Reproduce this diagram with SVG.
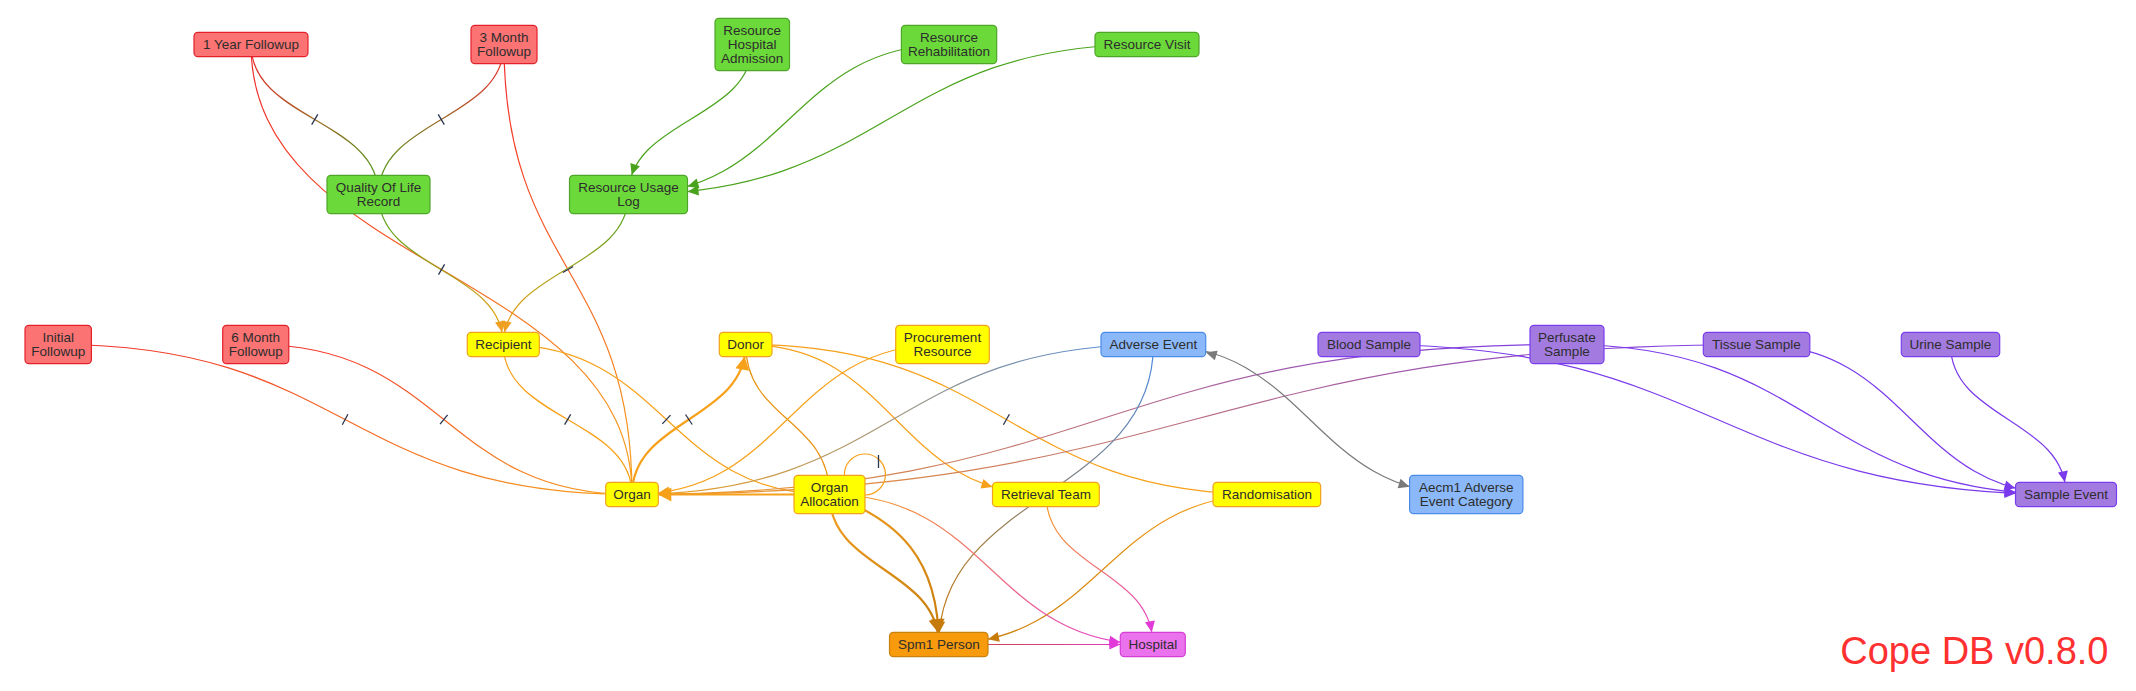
<svg xmlns="http://www.w3.org/2000/svg" xmlns:xlink="http://www.w3.org/1999/xlink" width="2136" height="691" viewBox="0 0 2136 691">
<style>
.node rect{stroke-width:1.2}
.node text{font-family:"Liberation Sans",Arial,Helvetica,sans-serif;font-size:13.5px;fill:#2d2d2d;text-anchor:middle}
.red rect{fill:#fb7373;stroke:#e4202a}
.green rect{fill:#6cd93a;stroke:#4ea52a}
.yellow rect{fill:#ffff00;stroke:#f0a020}
.blue rect{fill:#8ab8f8;stroke:#4a8ae8}
.purple rect{fill:#a37be0;stroke:#7a3cf0}
.spm rect{fill:#f79a0c;stroke:#c8800e}
.hosp rect{fill:#ea72ec;stroke:#d63ed6}
.e{fill:none;stroke-width:1.2}
.thick{stroke-width:2.2}
.tick{stroke:#2a3550;stroke-width:1.3;fill:none}
.title{font-family:"Liberation Sans",Arial,Helvetica,sans-serif;font-size:38px;fill:#ff3030;text-anchor:end}
</style>
<defs>
<path id="ah" d="M0,0 L-11,-5 L-11,5 Z"/>
<path id="ahT" d="M0,0 L-13,-7 L-13,7 Z"/>
<linearGradient id="g1" gradientUnits="userSpaceOnUse" x1="251" y1="44.5" x2="378.5" y2="194.5"><stop offset="0" stop-color="#f2282c"/><stop offset="1" stop-color="#4aa31c"/></linearGradient>
<linearGradient id="g2" gradientUnits="userSpaceOnUse" x1="504" y1="44.5" x2="378.5" y2="194.5"><stop offset="0" stop-color="#f2282c"/><stop offset="1" stop-color="#4aa31c"/></linearGradient>
<linearGradient id="g3" gradientUnits="userSpaceOnUse" x1="251" y1="44.5" x2="632" y2="494.5"><stop offset="0" stop-color="#f2282c"/><stop offset="1" stop-color="#f7a11a"/></linearGradient>
<linearGradient id="g4" gradientUnits="userSpaceOnUse" x1="504" y1="44.5" x2="632" y2="494.5"><stop offset="0" stop-color="#f2282c"/><stop offset="1" stop-color="#f7a11a"/></linearGradient>
<linearGradient id="g5" gradientUnits="userSpaceOnUse" x1="58.2" y1="344.5" x2="632" y2="494.5"><stop offset="0" stop-color="#f2282c"/><stop offset="1" stop-color="#f7a11a"/></linearGradient>
<linearGradient id="g6" gradientUnits="userSpaceOnUse" x1="255.7" y1="344.5" x2="632" y2="494.5"><stop offset="0" stop-color="#f2282c"/><stop offset="1" stop-color="#f7a11a"/></linearGradient>
<linearGradient id="g10" gradientUnits="userSpaceOnUse" x1="378.5" y1="194.5" x2="503.3" y2="344.5"><stop offset="0" stop-color="#4aa31c"/><stop offset="1" stop-color="#f7a11a"/></linearGradient>
<linearGradient id="g11" gradientUnits="userSpaceOnUse" x1="628.5" y1="194.5" x2="503.3" y2="344.5"><stop offset="0" stop-color="#4aa31c"/><stop offset="1" stop-color="#f7a11a"/></linearGradient>
<linearGradient id="g20" gradientUnits="userSpaceOnUse" x1="1153.4" y1="344.5" x2="632" y2="494.5"><stop offset="0" stop-color="#4a8ae0"/><stop offset="1" stop-color="#f7a11a"/></linearGradient>
<linearGradient id="g21" gradientUnits="userSpaceOnUse" x1="1567" y1="344.5" x2="632" y2="494.5"><stop offset="0" stop-color="#7b3aeb"/><stop offset="1" stop-color="#f7a11a"/></linearGradient>
<linearGradient id="g22" gradientUnits="userSpaceOnUse" x1="1756.5" y1="344.5" x2="632" y2="494.5"><stop offset="0" stop-color="#7b3aeb"/><stop offset="1" stop-color="#f7a11a"/></linearGradient>
<linearGradient id="g24" gradientUnits="userSpaceOnUse" x1="829.5" y1="494.5" x2="938.8" y2="644.5"><stop offset="0" stop-color="#f0a020"/><stop offset="1" stop-color="#c67a0a"/></linearGradient>
<linearGradient id="g26" gradientUnits="userSpaceOnUse" x1="1153.4" y1="344.5" x2="938.8" y2="644.5"><stop offset="0" stop-color="#4a8ae0"/><stop offset="1" stop-color="#c67a0a"/></linearGradient>
<linearGradient id="g27" gradientUnits="userSpaceOnUse" x1="1267" y1="494.5" x2="938.8" y2="644.5"><stop offset="0" stop-color="#f7a11a"/><stop offset="1" stop-color="#c67a0a"/></linearGradient>
<linearGradient id="g28" gradientUnits="userSpaceOnUse" x1="829.5" y1="494.5" x2="1152.8" y2="644.5"><stop offset="0" stop-color="#f7a11a"/><stop offset="1" stop-color="#e23ad8"/></linearGradient>
<linearGradient id="g29" gradientUnits="userSpaceOnUse" x1="1046" y1="494.5" x2="1152.8" y2="644.5"><stop offset="0" stop-color="#f7a11a"/><stop offset="1" stop-color="#e23ad8"/></linearGradient>
<linearGradient id="g30" gradientUnits="userSpaceOnUse" x1="938.8" y1="644.5" x2="1152.8" y2="644.5"><stop offset="0" stop-color="#c84a2a"/><stop offset="1" stop-color="#e23ad8"/></linearGradient>
</defs>
<rect width="2136" height="691" fill="#ffffff"/>
<g id="connectors">
<path class="e" stroke="url(#g1)" d="M251,44.5 C251,119.5 378.5,119.5 378.5,194.5"/>
<path class="e" stroke="url(#g2)" d="M504,44.5 C504,119.5 378.5,119.5 378.5,194.5"/>
<path class="e" stroke="url(#g3)" d="M251,44.5 C251,269.5 632,269.5 632,494.5"/>
<path class="e" stroke="url(#g4)" d="M504,44.5 C504,269.5 632,269.5 632,494.5"/>
<path class="e" stroke="url(#g5)" d="M58.2,344.5 C345.1,344.5 345.1,494.5 632,494.5"/>
<path class="e" stroke="url(#g6)" d="M255.7,344.5 C443.85,344.5 443.85,494.5 632,494.5"/>
<path class="e" stroke="#4aa31c" d="M752.2,44.5 C752.2,119.5 628.5,119.5 628.5,194.5"/>
<path class="e" stroke="#4aa31c" d="M949,44.5 C788.75,44.5 788.75,194.5 628.5,194.5"/>
<path class="e" stroke="#4aa31c" d="M1147,44.5 C887.75,44.5 887.75,194.5 628.5,194.5"/>
<path class="e" stroke="url(#g10)" d="M378.5,194.5 C378.5,269.5 503.3,269.5 503.3,344.5"/>
<path class="e" stroke="url(#g11)" d="M628.5,194.5 C628.5,269.5 503.3,269.5 503.3,344.5"/>
<path class="e" stroke="#f7a11a" d="M503.3,344.5 C503.3,419.5 632,419.5 632,494.5"/>
<path class="e" stroke="#f7a11a" d="M503.3,344.5 C666.4,344.5 666.4,494.5 829.5,494.5"/>
<path class="e thick" stroke="#f7a11a" d="M632,494.5 C632,419.5 745.7,419.5 745.7,344.5"/>
<path class="e" stroke="#e8920e" stroke-width="1.4" d="M745.7,344.5 C745.7,419.5 829.5,419.5 829.5,494.5"/>
<path class="e" stroke="#f7a11a" d="M745.7,344.5 C895.85,344.5 895.85,494.5 1046,494.5"/>
<path class="e" stroke="#f7a11a" d="M745.7,344.5 C1006.35,344.5 1006.35,494.5 1267,494.5"/>
<path class="e" stroke="#f7a11a" d="M942.5,344.5 C787.25,344.5 787.25,494.5 632,494.5"/>
<path class="e thick" stroke="#f7a11a" d="M829.5,494.5 L632,494.5"/>
<path class="e" stroke="url(#g20)" d="M1153.4,344.5 C892.7,344.5 892.7,494.5 632,494.5"/>
<path class="e" stroke="url(#g21)" d="M1567,344.5 C1099.5,344.5 1099.5,494.5 632,494.5"/>
<path class="e" stroke="url(#g22)" d="M1756.5,344.5 C1194.25,344.5 1194.25,494.5 632,494.5"/>
<path class="e" stroke="#f7a11a" d="M844.5,476 A20.5,20.5 0 1 1 865,495"/>
<path class="e thick" stroke="url(#g24)" d="M829.5,494.5 C829.5,569.5 938.8,569.5 938.8,644.5"/>
<path class="e thick" stroke="url(#g24)" d="M829.5,494.5 C900,520 938.8,560 938.8,644.5"/>
<path class="e" stroke="url(#g26)" d="M1153.4,344.5 C1153.4,494.5 938.8,494.5 938.8,644.5"/>
<path class="e" stroke="url(#g27)" d="M1267,494.5 C1102.9,494.5 1102.9,644.5 938.8,644.5"/>
<path class="e" stroke="url(#g28)" d="M829.5,494.5 C991.15,494.5 991.15,644.5 1152.8,644.5"/>
<path class="e" stroke="url(#g29)" d="M1046,494.5 C1046,569.5 1152.8,569.5 1152.8,644.5"/>
<path class="e" stroke="url(#g30)" d="M938.8,644.5 L1152.8,644.5"/>
<path class="e" stroke="#7a7a7a" d="M1153.4,344.5 C1309.8,344.5 1309.8,494.5 1466.2,494.5"/>
<path class="e" stroke="#7b3aeb" d="M1369,344.5 C1717.5,344.5 1717.5,494.5 2066,494.5"/>
<path class="e" stroke="#7b3aeb" d="M1567,344.5 C1816.5,344.5 1816.5,494.5 2066,494.5"/>
<path class="e" stroke="#7b3aeb" d="M1756.5,344.5 C1911.25,344.5 1911.25,494.5 2066,494.5"/>
<path class="e" stroke="#7b3aeb" d="M1950.5,344.5 C1950.5,419.5 2066,419.5 2066,494.5"/>
<path class="tick" d="M317.8,114.3 L311.7,124.7"/>
<path class="tick" d="M438.2,114.4 L444.3,124.6"/>
<path class="tick" d="M444.6,264.3 L438.5,274.7"/>
<path class="tick" d="M573.2,266.5 L562.8,272.5"/>
<path class="tick" d="M347.9,414.2 L342.3,424.8"/>
<path class="tick" d="M447.6,414.8 L440.1,424.2"/>
<path class="tick" d="M570.7,414.3 L564.6,424.7"/>
<path class="tick" d="M670.5,415.1 L662.3,423.9"/>
<path class="tick" d="M685.5,414.5 L692.2,424.5"/>
<path class="tick" d="M1009.4,414.3 L1003.4,424.7"/>
<path class="tick" d="M878.5,455 L878.5,468"/>
<use href="#ah" fill="#4aa31c" transform="translate(631.6,175) rotate(108.9)"/>
<use href="#ah" fill="#4aa31c" transform="translate(687.5,186.5) rotate(163.5)"/>
<use href="#ah" fill="#4aa31c" transform="translate(687.5,191.7) rotate(174.1)"/>
<use href="#ah" fill="#f0a020" transform="translate(502.1,332.3) rotate(78.7)"/>
<use href="#ah" fill="#f0a020" transform="translate(504.5,332.3) rotate(101.3)"/>
<use href="#ahT" fill="#f7a11a" transform="translate(744.6,356.7) rotate(-79.6)"/>
<use href="#ah" fill="#f7a11a" transform="translate(992.5,487) rotate(17)"/>
<use href="#ah" fill="#f7a11a" transform="translate(658.3,492.9) rotate(173)"/>
<use href="#ahT" fill="#f7a11a" transform="translate(658.3,494.5) rotate(180)"/>
<use href="#ah" fill="#f7a11a" transform="translate(658.3,494) rotate(177.6)"/>
<use href="#ah" fill="#f7a11a" transform="translate(658.3,494.3) rotate(179.3)"/>
<use href="#ah" fill="#f7a11a" transform="translate(658.3,494.4) rotate(179.5)"/>
<use href="#ahT" fill="#c67a0a" transform="translate(937.8,632.3) rotate(80.1)"/>
<use href="#ahT" fill="#c67a0a" transform="translate(938.2,632.2) rotate(87.2)"/>
<use href="#ah" fill="#c67a0a" transform="translate(939.3,632.3) rotate(94.5)"/>
<use href="#ah" fill="#c67a0a" transform="translate(988,639.3) rotate(167.3)"/>
<use href="#ah" fill="#e23ad8" transform="translate(1120.3,642.3) rotate(8.1)"/>
<use href="#ah" fill="#e23ad8" transform="translate(1151.8,632.3) rotate(80.3)"/>
<use href="#ah" fill="#e23ad8" transform="translate(1120.3,644.5)"/>
<use href="#ah" fill="#7a7a7a" transform="translate(1409.6,486.7) rotate(16.7)"/>
<use href="#ah" fill="#7a7a7a" transform="translate(1205.7,352.3) rotate(196.7)"/>
<use href="#ah" fill="#7b3aeb" transform="translate(2015.5,493.4) rotate(2.6)"/>
<use href="#ah" fill="#7b3aeb" transform="translate(2015.5,492.3) rotate(5.3)"/>
<use href="#ah" fill="#7b3aeb" transform="translate(2015.5,488.3) rotate(14.9)"/>
<use href="#ah" fill="#7b3aeb" transform="translate(2064.9,482.3) rotate(79.5)"/>
</g>
<g id="node-1-year-followup" class="node red"><rect x="194" y="32.3" width="114" height="24.4" rx="4"/><text x="251" y="49.4">1 Year Followup</text></g>
<g id="node-3-month-followup" class="node red"><rect x="471" y="25.3" width="66" height="38.4" rx="4"/><text x="504" y="42.4">3 Month</text><text x="504" y="56.4">Followup</text></g>
<g id="node-resource-hospital-admission" class="node green"><rect x="715" y="18.3" width="74.5" height="52.4" rx="4"/><text x="752.2" y="35.4">Resource</text><text x="752.2" y="49.4">Hospital</text><text x="752.2" y="63.4">Admission</text></g>
<g id="node-resource-rehabilitation" class="node green"><rect x="901.4" y="25.3" width="95.3" height="38.4" rx="4"/><text x="949" y="42.4">Resource</text><text x="949" y="56.4">Rehabilitation</text></g>
<g id="node-resource-visit" class="node green"><rect x="1095" y="32.3" width="104" height="24.4" rx="4"/><text x="1147" y="49.4">Resource Visit</text></g>
<g id="node-quality-of-life-record" class="node green"><rect x="327" y="175.3" width="103" height="38.4" rx="4"/><text x="378.5" y="192.4">Quality Of Life</text><text x="378.5" y="206.4">Record</text></g>
<g id="node-resource-usage-log" class="node green"><rect x="569.5" y="175.3" width="118" height="38.4" rx="4"/><text x="628.5" y="192.4">Resource Usage</text><text x="628.5" y="206.4">Log</text></g>
<g id="node-initial-followup" class="node red"><rect x="25" y="325.3" width="66.4" height="38.4" rx="4"/><text x="58.2" y="342.4">Initial</text><text x="58.2" y="356.4">Followup</text></g>
<g id="node-6-month-followup" class="node red"><rect x="222.7" y="325.3" width="66.1" height="38.4" rx="4"/><text x="255.7" y="342.4">6 Month</text><text x="255.7" y="356.4">Followup</text></g>
<g id="node-recipient" class="node yellow"><rect x="467.3" y="332.3" width="72" height="24.4" rx="4"/><text x="503.3" y="349.4">Recipient</text></g>
<g id="node-donor" class="node yellow"><rect x="719.3" y="332.3" width="52.7" height="24.4" rx="4"/><text x="745.7" y="349.4">Donor</text></g>
<g id="node-procurement-resource" class="node yellow"><rect x="895.7" y="325.3" width="93.6" height="38.4" rx="4"/><text x="942.5" y="342.4">Procurement</text><text x="942.5" y="356.4">Resource</text></g>
<g id="node-adverse-event" class="node blue"><rect x="1101" y="332.3" width="104.7" height="24.4" rx="4"/><text x="1153.4" y="349.4">Adverse Event</text></g>
<g id="node-blood-sample" class="node purple"><rect x="1318" y="332.3" width="102" height="24.4" rx="4"/><text x="1369" y="349.4">Blood Sample</text></g>
<g id="node-perfusate-sample" class="node purple"><rect x="1530" y="325.3" width="74" height="38.4" rx="4"/><text x="1567" y="342.4">Perfusate</text><text x="1567" y="356.4">Sample</text></g>
<g id="node-tissue-sample" class="node purple"><rect x="1703.3" y="332.3" width="106.5" height="24.4" rx="4"/><text x="1756.5" y="349.4">Tissue Sample</text></g>
<g id="node-urine-sample" class="node purple"><rect x="1901.3" y="332.3" width="98.4" height="24.4" rx="4"/><text x="1950.5" y="349.4">Urine Sample</text></g>
<g id="node-organ" class="node yellow"><rect x="605.7" y="482.3" width="52.6" height="24.4" rx="4"/><text x="632" y="499.4">Organ</text></g>
<g id="node-organ-allocation" class="node yellow"><rect x="794" y="475.3" width="71" height="38.4" rx="4"/><text x="829.5" y="492.4">Organ</text><text x="829.5" y="506.4">Allocation</text></g>
<g id="node-retrieval-team" class="node yellow"><rect x="992.5" y="482.3" width="106.8" height="24.4" rx="4"/><text x="1046" y="499.4">Retrieval Team</text></g>
<g id="node-randomisation" class="node yellow"><rect x="1213" y="482.3" width="107.7" height="24.4" rx="4"/><text x="1267" y="499.4">Randomisation</text></g>
<g id="node-aecm1-adverse-event-category" class="node blue"><rect x="1409.6" y="475.3" width="113.3" height="38.4" rx="4"/><text x="1466.2" y="492.4">Aecm1 Adverse</text><text x="1466.2" y="506.4">Event Category</text></g>
<g id="node-sample-event" class="node purple"><rect x="2015.5" y="482.3" width="101" height="24.4" rx="4"/><text x="2066" y="499.4">Sample Event</text></g>
<g id="node-spm1-person" class="node spm"><rect x="889.5" y="632.3" width="98.5" height="24.4" rx="4"/><text x="938.8" y="649.4">Spm1 Person</text></g>
<g id="node-hospital" class="node hosp"><rect x="1120.3" y="632.3" width="65" height="24.4" rx="4"/><text x="1152.8" y="649.4">Hospital</text></g>
<text class="title" x="2108.5" y="664">Cope DB v0.8.0</text>
</svg>
